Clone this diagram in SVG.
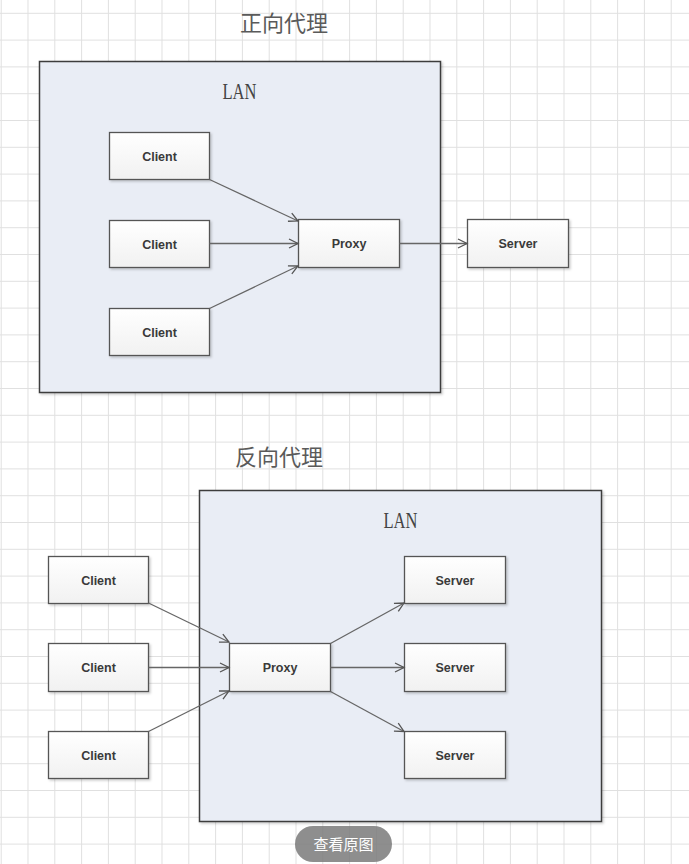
<svg xmlns="http://www.w3.org/2000/svg" width="689" height="864" viewBox="0 0 689 864">
  <defs>
    <pattern id="grid" patternUnits="userSpaceOnUse" x="0.7" y="12.8" width="26.8" height="26.8">
      <rect x="0" y="0" width="1" height="26.8" fill="#e0e0e0"/>
      <rect x="0" y="0" width="26.8" height="1" fill="#e0e0e0"/>
    </pattern>
    <linearGradient id="nodeFill" x1="0" y1="0" x2="0" y2="1">
      <stop offset="0" stop-color="#ffffff"/>
      <stop offset="1" stop-color="#f1f1f1"/>
    </linearGradient>
    <filter id="shadow" x="-10%" y="-10%" width="130%" height="130%">
      <feDropShadow dx="1.5" dy="1.5" stdDeviation="1" flood-color="#000" flood-opacity="0.2"/>
    </filter>
    <marker id="arrow" markerUnits="userSpaceOnUse" markerWidth="14" markerHeight="14" viewBox="-11 -7 14 14" refX="0" refY="0" orient="auto">
      <path d="M-9,-4.5 L0,0 L-9,4.5" fill="none" stroke="#555" stroke-width="1.3"/>
    </marker>
    <style>
      .lan { fill: #e9edf5; stroke: #3c3c3c; stroke-width: 1.5; }
      .node rect { fill: url(#nodeFill); stroke: #555; stroke-width: 1.3; }
      .node text { font-family: "Liberation Sans", Arial, sans-serif; font-weight: bold; font-size: 12.5px; fill: #3a3a3a; text-anchor: middle; }
      .title { font-family: "Noto Sans CJK SC", sans-serif; font-size: 22px; fill: #5a5a5a; }
      .lanlabel { font-family: "Liberation Serif", serif; font-size: 24px; fill: #444; }
      .conn line { stroke: #666; stroke-width: 1.3; marker-end: url(#arrow); }
    </style>
  </defs>

  <rect x="0" y="0" width="689" height="864" fill="#ffffff"/>
  <rect x="0" y="0" width="689" height="864" fill="url(#grid)"/>

  <!-- Forward proxy -->
  <text class="title" x="240" y="31">正向代理</text>
  <g id="lan-forward">
    <rect class="lan" x="39.5" y="61.5" width="401" height="331" filter="url(#shadow)"/>
    <text class="lanlabel" x="222.5" y="99" textLength="34" lengthAdjust="spacingAndGlyphs">LAN</text>
  </g>

  <g id="f-client1" class="node"><rect x="109.5" y="132.5" width="100" height="47" filter="url(#shadow)"/><text x="159.5" y="160.5">Client</text></g>
  <g id="f-client2" class="node"><rect x="109.5" y="220.5" width="100" height="47" filter="url(#shadow)"/><text x="159.5" y="248.5">Client</text></g>
  <g id="f-client3" class="node"><rect x="109.5" y="308.5" width="100" height="47" filter="url(#shadow)"/><text x="159.5" y="336.5">Client</text></g>
  <g id="f-proxy" class="node"><rect x="298.5" y="219.5" width="101" height="48" filter="url(#shadow)"/><text x="349" y="248">Proxy</text></g>
  <g id="f-server" class="node"><rect x="467.5" y="219.5" width="101" height="48" filter="url(#shadow)"/><text x="518" y="248">Server</text></g>

  <!-- Reverse proxy -->
  <text class="title" x="235" y="465">反向代理</text>
  <g id="lan-reverse">
    <rect class="lan" x="199.5" y="490.5" width="402" height="331" filter="url(#shadow)"/>
    <text class="lanlabel" x="383.5" y="527.5" textLength="34" lengthAdjust="spacingAndGlyphs">LAN</text>
  </g>

  <g id="r-client1" class="node"><rect x="48.5" y="556.5" width="100" height="47" filter="url(#shadow)"/><text x="98.5" y="584.5">Client</text></g>
  <g id="r-client2" class="node"><rect x="48.5" y="643.5" width="100" height="48" filter="url(#shadow)"/><text x="98.5" y="672">Client</text></g>
  <g id="r-client3" class="node"><rect x="48.5" y="731.5" width="100" height="47" filter="url(#shadow)"/><text x="98.5" y="759.5">Client</text></g>
  <g id="r-proxy" class="node"><rect x="229.5" y="643.5" width="101" height="48" filter="url(#shadow)"/><text x="280" y="672">Proxy</text></g>
  <g id="r-server1" class="node"><rect x="404.5" y="556.5" width="101" height="47" filter="url(#shadow)"/><text x="455" y="584.5">Server</text></g>
  <g id="r-server2" class="node"><rect x="404.5" y="643.5" width="101" height="48" filter="url(#shadow)"/><text x="455" y="672">Server</text></g>
  <g id="r-server3" class="node"><rect x="404.5" y="731.5" width="101" height="47" filter="url(#shadow)"/><text x="455" y="759.5">Server</text></g>

  <g id="connectors" class="conn">
    <line x1="209.5" y1="179.5" x2="298" y2="221"/>
    <line x1="209.5" y1="243.5" x2="298" y2="243.5"/>
    <line x1="209.5" y1="308.5" x2="298" y2="266"/>
    <line x1="399.5" y1="243.5" x2="467" y2="243.5"/>

    <line x1="148.5" y1="603" x2="229" y2="642"/>
    <line x1="148.5" y1="667.5" x2="229" y2="667.5"/>
    <line x1="148.5" y1="731.5" x2="229" y2="691"/>
    <line x1="330.5" y1="643.5" x2="404" y2="603"/>
    <line x1="330.5" y1="667.5" x2="404" y2="667.5"/>
    <line x1="330.5" y1="691.5" x2="404" y2="731.5"/>
  </g>

  <g id="view-original">
    <rect x="295" y="826" width="97" height="36" rx="18" fill="#7a7a7a" fill-opacity="0.85"/>
    <text x="343.5" y="850" font-family="Noto Sans CJK SC, sans-serif" font-size="15" fill="#ffffff" text-anchor="middle">查看原图</text>
  </g>
</svg>
